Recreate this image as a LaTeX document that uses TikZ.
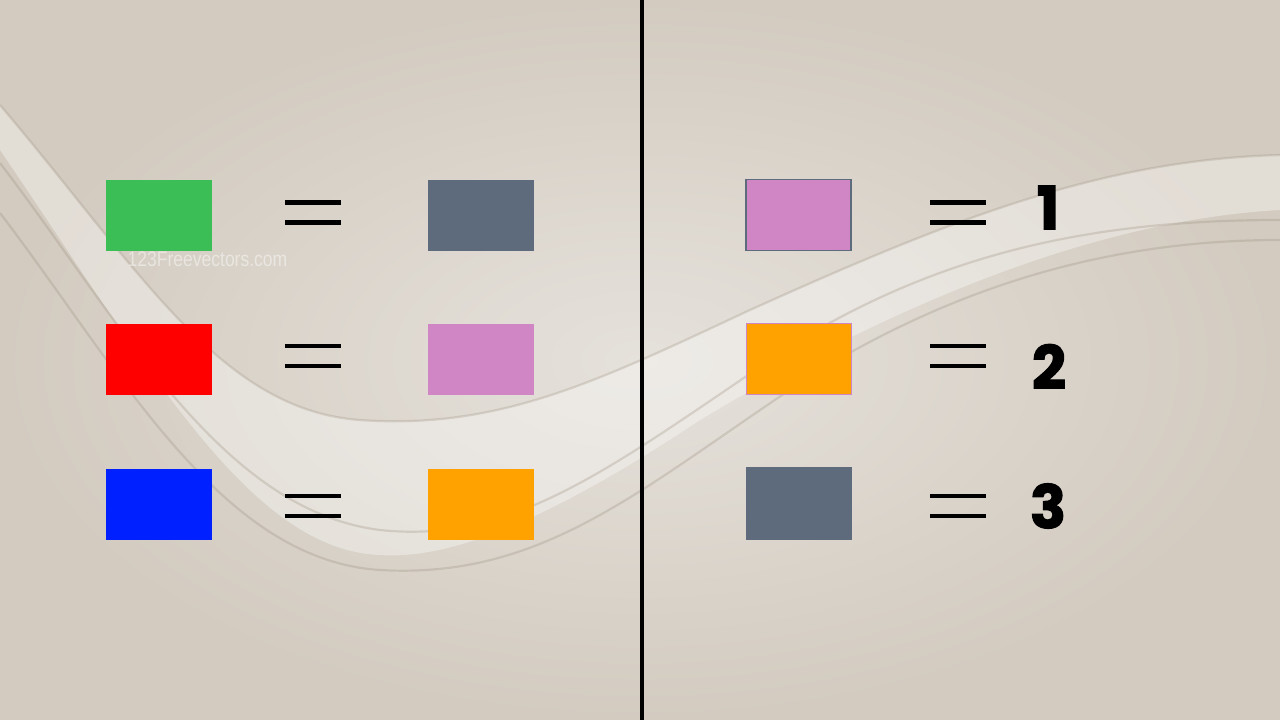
\documentclass[tikz,border=0pt]{standalone}
\usepackage{fontspec}
\setmainfont{Liberation Sans}
\newfontfamily\numfont{Poppins}[FakeBold=2]
\usetikzlibrary{positioning}
\definecolor{paper}{HTML}{DDD7CE}
\definecolor{paperEdge}{HTML}{D3CBC0}
\definecolor{paperLight}{HTML}{E5E1DB}
\definecolor{ridge}{HTML}{9E9282}
\definecolor{swGreen}{HTML}{3BBE55}
\definecolor{swRed}{HTML}{FF0000}
\definecolor{swBlue}{HTML}{0020FF}
\definecolor{swGrey}{HTML}{5E6B7C}
\definecolor{swPink}{HTML}{D085C5}
\definecolor{swOrange}{HTML}{FFA200}
\tikzset{
  swatch/.style={minimum width=10.6mm,minimum height=7.1mm,inner sep=0pt,outer sep=0pt},
  numlab/.style={font=\numfont\bfseries\fontsize{17}{17}\selectfont,text=black,inner sep=0pt},
  wmark/.style={font=\fontsize{6}{6}\selectfont,text=white,opacity=0.45,inner sep=0pt},
  ridgeline/.style={ridge,line width=0.22mm,opacity=0.3},
}
\newcommand{\eqbars}[2]{%
  \fill[black] (#1-2.8,#2+0.78) rectangle (#1+2.8,#2+1.22);
  \fill[black] (#1-2.8,#2-1.22) rectangle (#1+2.8,#2-0.78);
}

\begin{document}
\begin{tikzpicture}[x=1mm,y=1mm]
\useasboundingbox (0,0) rectangle (128,72);

% ---- paper background ----
\shade[inner color=paperLight,outer color=paperEdge] (0,0) rectangle (128,72);

% ---- white swoosh ----
\fill[white,opacity=0.35]
  (0,61.5) .. controls (14,45) and (22,31) .. (36,30)
  .. controls (50,29) and (60,34) .. (75,41)
  .. controls (95,50) and (110,56) .. (128,56.5)
  -- (128,51) .. controls (110,50) and (90,42) .. (70,30)
  .. controls (55,20) and (45,16) .. (38,16.5)
  .. controls (25,17) and (15,35) .. (0,57) -- cycle;
\draw[ridgeline] (0,61.5) .. controls (14,45) and (22,31) .. (36,30)
  .. controls (50,29) and (60,34) .. (75,41)
  .. controls (95,50) and (110,56) .. (128,56.5);
\draw[ridgeline] (0,55.7) .. controls (12,40) and (22,21) .. (38,19)
  .. controls (52,17.5) and (62,26) .. (80,38)
  .. controls (95,47) and (110,50) .. (128,50);
\draw[ridgeline] (0,50.7) .. controls (12,35) and (22,16) .. (38,15)
  .. controls (55,14) and (65,24) .. (82,35)
  .. controls (97,44) and (112,48) .. (128,48);

\node[wmark] (wm) at (20.75,46.05) {\scalebox{0.83}[1]{123Freevectors.com}};

% ---- divider ----
\fill[black] (64,0) rectangle (64.4,72);

% ================= LEFT HALF =================
\node[swatch,fill=swGreen] (g1) at (15.9,50.45) {};
\node[swatch,fill=swRed]   (r1) at (15.9,36.05) {};
\node[swatch,fill=swBlue]  (b1) at (15.9,21.55) {};
\eqbars{31.3}{50.73}
\eqbars{31.3}{36.4}
\eqbars{31.3}{21.4}
\node[swatch,fill=swGrey]   (g2) at (48.1,50.45) {};
\node[swatch,fill=swPink]   (p2) at (48.1,36.05) {};
\node[swatch,fill=swOrange] (o2) at (48.1,21.55) {};

% ================= RIGHT HALF =================
\node[swatch,fill=swPink,draw=swGrey,line width=0.12mm,minimum width=10.5mm] (pR) at (79.85,50.5) {};
\node[swatch,fill=swOrange,draw=swPink,line width=0.1mm,minimum width=10.5mm] (oR) at (79.85,36.05) {};
\node[swatch,fill=swGrey,minimum height=7.3mm] (gR) at (79.85,21.65) {};
\eqbars{95.8}{50.73}
\eqbars{95.8}{36.4}
\eqbars{95.8}{21.4}
\node[numlab] (n1) at (104.8,51.25) {1};
\node[numlab] (n2) at (104.9,35.35) {2};
\node[numlab] (n3) at (104.8,21.4) {3};

\end{tikzpicture}
\end{document}
